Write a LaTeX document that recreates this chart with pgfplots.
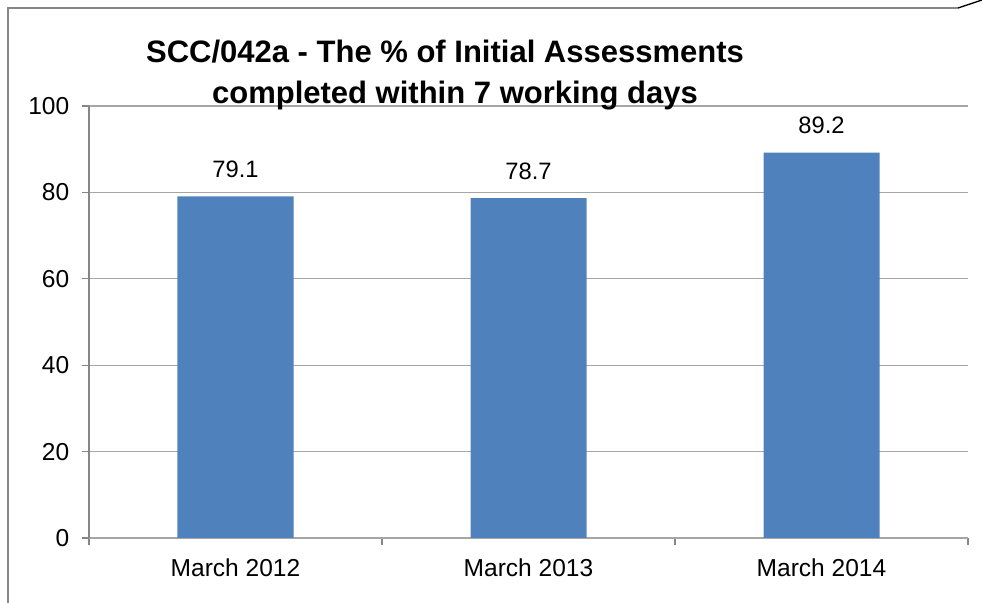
\documentclass[border=0pt]{standalone}
\usepackage{fontspec}
\setmainfont{Liberation Sans}
\usepackage{pgfplots}
\pgfplotsset{compat=1.18}
\definecolor{barblue}{HTML}{4F81BD}
\definecolor{gridgray}{HTML}{A6A6A6}
\definecolor{axgray}{HTML}{868686}
\begin{document}
\begin{tikzpicture}
\path[use as bounding box] (-66.75pt,-48.75pt) rectangle (669.75pt,403.5pt);
\draw[axgray, line width=0.9pt] (-60.75pt,-48.75pt) -- (-60.75pt,397.5pt) -- (651.75pt,397.5pt);
\draw[black, line width=1pt] (651.75pt,397.5pt) -- (669.75pt,403.5pt);
\begin{axis}[
  at={(0,0)}, anchor=south west,
  scale only axis,
  width=659.25pt, height=324pt,
  xmin=-0.5, xmax=2.5, ymin=0, ymax=100,
  ybar, bar width=87pt,
  xtick={0,1,2},
  xticklabels={March 2012,March 2013,March 2014},
  minor xtick={-0.5,0.5,1.5,2.5},
  ytick={0,20,40,60,80,100},
  ymajorgrids,
  grid style={gridgray, line width=0.8pt},
  axis x line=bottom, axis y line=left,
  x axis line style={-, gridgray, line width=0.9pt},
  y axis line style={-, axgray, line width=0.8pt},
  tick align=outside,
  major tick length=5.25pt, minor tick length=5.25pt,
  major x tick style={draw=none},
  minor x tick style={axgray, line width=0.8pt},
  major y tick style={axgray, line width=0.8pt},
  /pgf/number format/assume math mode=true,
  ticklabel style={font=\fontsize{18.4}{22}\selectfont},
  yticklabel style={xshift=-6pt},
  xticklabel style={yshift=-6.5pt},
  nodes near coords,
  nodes near coords style={font=\fontsize{17.8}{21}\selectfont, /pgf/number format/fixed, /pgf/number format/precision=1, /pgf/number format/fixed zerofill},
  every node near coord/.append style={anchor=base, inner sep=0pt, yshift=14.25pt},
  clip=false,
]
\addplot[fill=barblue, draw=none] coordinates {(0,79.1) (1,78.7) (2,89.2)};
\end{axis}
\node[anchor=base, font=\bfseries\fontsize{23.25}{28}\selectfont] at (267pt,356.25pt) {SCC/042a - The \% of Initial Assessments};
\node[anchor=base, font=\bfseries\fontsize{23.25}{28}\selectfont] at (274.5pt,325.5pt) {completed within 7 working days};
\end{tikzpicture}
\end{document}
